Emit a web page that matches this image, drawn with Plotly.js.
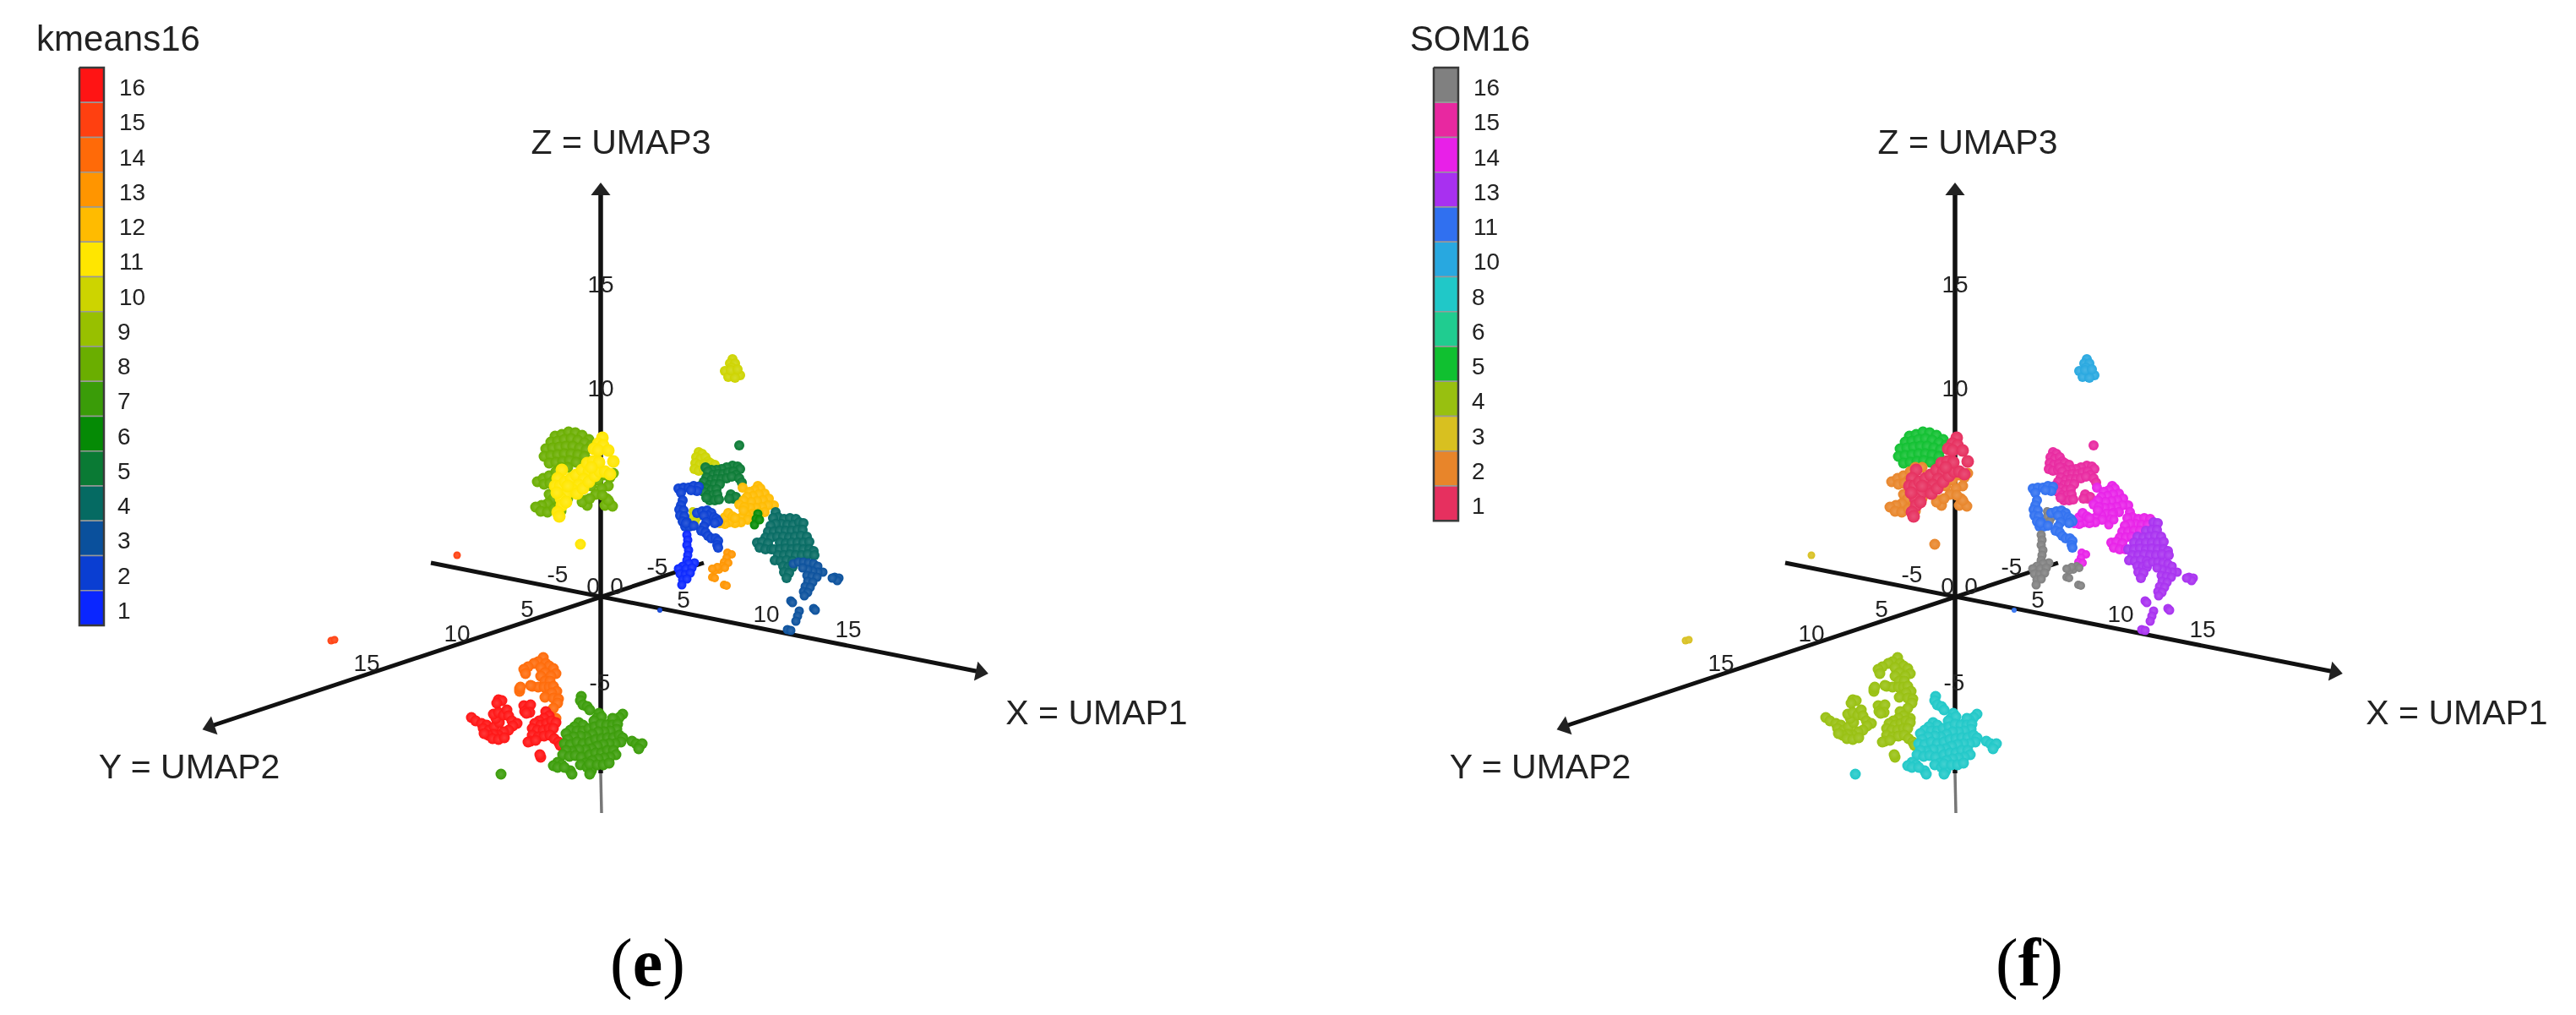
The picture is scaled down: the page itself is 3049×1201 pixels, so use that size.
<!DOCTYPE html>
<html><head><meta charset="utf-8">
<script src="https://cdn.plot.ly/plotly-3.0.1.min.js"></script>
<style>html,body{margin:0;padding:0;background:#fff}#p{width:3049px;height:1201px}
#p .cartesianlayer{filter:blur(0.6px)}</style>
</head><body><div id="p"></div>
<script>
// ---- legend categories and colours ----
const kmeansLabels=[1,2,3,4,5,6,7,8,9,10,11,12,13,14,15,16];
const kmeansColors=['#0a26ff','#0a3ed2','#0a509c','#056a62','#0a7a34','#058a05','#3a9c08','#6aae00','#98c000','#cdd400','#ffe600','#ffbb00','#ff9500','#ff6a08','#ff4010','#ff1414'];
const somLabels=[1,2,3,4,5,6,8,10,11,13,14,15,16];
const somColors=['#e6305f','#e8852a','#d8c020','#98c010','#10c030','#20cc90','#20c8c8','#28a8e0','#3070f0','#a830f0','#e820e8','#e828a0','#808080'];
// ---- projected UMAP points ----
const cloudA1=[[657,516],[665,514],[673,511],[681,512],[689,515],[697,520],[652,523],[660,522],[668,520],[676,519],[684,521],[692,524],[700,527],[646,531],[654,530],[662,529],[670,528],[678,528],[686,530],[694,532],[644,540],[652,539],[660,538],[668,537],[676,537],[684,538],[692,540],[650,548],[658,547],[666,546],[674,545],[682,547]];
const cloudA2=[[636,570],[643,566],[650,563],[656,568],[644,573],[651,572],[658,558],[664,553],[672,553],[650,585],[655,590],[648,596],[641,598],[634,600],[640,605],[648,606],[656,602],[662,597],[667,592],[660,585],[672,590],[664,605],[693,592],[695,598],[689,594],[718,590],[722,596],[716,598],[725,599],[720,592],[700,575],[708,568],[716,562],[722,565],[720,575],[712,578],[705,585],[698,590],[713,586],[726,560]];
const cloudB=[[713,518],[708,525],[703,531],[714,527],[708,533],[720,533],[726,546],[665,556],[660,566],[657,575],[663,575],[669,570],[676,566],[682,562],[689,556],[695,548],[702,546],[697,558],[691,567],[685,574],[678,580],[670,585],[664,590],[659,583],[672,575],[683,584],[690,578],[697,570],[704,563],[710,558],[716,558],[722,561],[709,547],[700,553],[665,598],[660,606],[670,594],[662,611]];
const loneB=[[687,644]];
const cloudC=[[867,425],[864,430],[870,430],[866,435],[862,440],[858,439],[868,442],[873,442],[876,444],[862,446],[870,447],[865,438],[873,437]];
const cloudD=[[827,535],[831,537],[824,541],[829,543],[835,541],[838,546],[823,548],[828,550],[834,549],[841,548],[846,550],[822,555],[827,557],[833,556],[839,554]];
const cloudD2=[[820,605],[824,606],[820,611],[825,613],[823,617]];
const cloudE=[[875,527],[867,551],[873,552],[876,555],[860,553],[854,555],[848,556],[842,556],[835,553],[838,558],[844,562],[850,561],[856,561],[862,559],[868,558],[871,562],[836,565],[842,568],[848,567],[854,567],[860,566],[866,564],[833,570],[840,574],[846,573],[852,573],[875,566],[878,571],[829,575],[836,578],[842,580],[848,579],[833,582],[838,586],[844,586],[849,585],[840,592],[846,592],[851,591],[836,589],[865,585],[868,590],[871,588],[863,590]];
const cloudE2=[[897,608],[895,614],[893,621],[899,615]];
const cloudF=[[879,577],[897,575],[900,578],[893,580],[887,582],[905,584],[898,585],[891,587],[884,588],[910,590],[903,592],[896,593],[889,594],[880,592],[875,597],[916,598],[909,598],[902,600],[895,601],[888,601],[881,600],[905,606],[898,607],[890,608],[884,610],[878,612],[885,615],[877,618],[870,619],[863,618],[858,620],[852,619],[858,612],[862,607],[867,611],[870,613],[880,604]];
const cloudG1=[[918,606],[921,612],[915,613],[928,614],[935,613],[942,614],[925,620],[918,620],[912,622],[932,621],[939,621],[909,629],[916,629],[923,628],[930,628],[906,636],[913,636],[920,635],[896,642],[902,641],[909,643],[899,648],[906,650],[913,650]];
const cloudG2=[[946,618],[951,619],[937,628],[944,627],[950,627],[927,635],[934,636],[941,635],[948,634],[955,635],[923,642],[930,643],[937,642],[944,642],[951,642],[958,641],[916,650],[923,650],[930,649],[937,650],[944,649],[951,650],[958,650],[963,652],[921,657],[928,657],[935,656],[942,657],[949,657],[956,656],[964,657],[917,663],[924,664],[931,663],[938,664],[927,670],[933,671],[938,671],[928,677],[934,678],[931,684]];
const cloudH=[[939,667],[945,665],[951,665],[957,666],[963,667],[968,670],[974,677],[968,677],[962,676],[956,674],[950,672],[955,681],[961,682],[967,683],[956,688],[962,689],[953,694],[959,695],[951,700],[956,701],[952,705],[988,683],[993,684],[991,687],[985,684],[936,711],[938,713],[963,720],[965,722],[946,723],[944,729],[942,735],[932,745],[936,746]];
const cloudI=[[803,578],[809,577],[815,577],[821,575],[827,576],[825,581],[818,580],[806,583],[808,592],[806,598],[804,603],[809,604],[805,610],[810,611],[808,617],[813,618],[811,623],[816,623],[812,619],[821,622],[825,607],[831,605],[837,604],[842,607],[838,610],[845,612],[848,614],[850,617],[833,610],[846,619],[836,618],[833,623],[830,628],[835,630],[838,634],[842,637],[847,637],[850,640],[849,645],[850,648]];
const cloudI2=[[813,633],[814,639],[813,645],[815,651],[814,657],[813,663],[822,666],[815,667],[808,670],[803,673],[812,673],[819,672],[805,679],[811,680],[817,678],[808,686],[813,685],[807,692]];
const cloudJ1=[[861,654],[866,656],[860,660],[857,665],[862,666]];
const cloudJ2=[[855,670],[851,674],[846,675],[858,672],[849,671],[843,673],[843,683],[846,684],[857,692],[860,693]];
const cloudK=[[643,778],[637,783],[632,785],[625,789],[620,792],[646,785],[650,788],[655,791],[658,797],[622,797],[640,790],[645,796],[640,800],[652,800],[645,806],[651,806],[630,812],[637,813],[644,813],[650,813],[628,811],[655,812],[659,818],[653,820],[645,825],[655,826],[661,827],[660,832],[655,838],[615,818],[615,815],[616,813],[658,850]];
const cloudL=[[590,828],[594,829],[588,832],[558,849],[563,853],[570,856],[576,858],[572,862],[579,864],[585,860],[591,855],[587,850],[584,845],[590,843],[596,846],[600,840],[602,847],[606,853],[612,856],[607,859],[602,864],[596,866],[590,870],[584,869],[578,870],[573,868],[583,874],[590,875],[597,873],[620,835],[625,838],[621,842],[628,834],[627,843],[623,844],[646,842],[650,847],[644,850],[638,853],[633,856],[640,858],[647,856],[653,853],[658,855],[630,862],[636,864],[643,864],[650,862],[655,862],[630,870],[637,872],[644,871],[651,870],[628,877],[625,878],[634,876],[656,874],[661,878],[663,882],[640,896],[639,893]];
const cloudM=[[593,916],[688,824],[687,829],[690,834],[695,836],[698,840],[709,844],[706,850],[712,848],[703,853],[737,845],[733,849],[728,852],[722,856],[725,850],[685,855],[690,858],[680,860],[675,864],[670,868],[683,865],[690,865],[697,862],[704,860],[711,857],[718,858],[725,858],[731,857],[730,863],[722,865],[715,866],[708,866],[701,869],[694,872],[687,871],[679,872],[672,875],[668,880],[675,881],[683,878],[690,880],[698,878],[705,875],[712,874],[719,873],[726,873],[733,870],[737,873],[735,878],[728,880],[721,880],[714,881],[707,883],[700,886],[693,887],[685,887],[677,889],[670,888],[666,893],[674,895],[681,894],[688,896],[698,893],[705,891],[712,891],[719,888],[726,888],[729,893],[722,896],[715,897],[708,898],[701,900],[693,903],[687,905],[695,908],[700,912],[698,904],[707,905],[714,905],[721,903],[660,902],[665,905],[655,906],[660,908],[675,912],[677,916],[668,908],[698,916],[748,877],[753,880],[757,883],[760,880],[756,886]];
const outliers=[[392,758],[396,757],[541,657]];
const strayBlue=[[781,722]];
// each cloud: points, kmeans16 class, SOM16 class, marker size
const clouds=[
 [cloudA1,8,5,13],[cloudA2,8,2,13],[cloudD,10,15,12],[cloudE,5,15,12],[cloudF,12,14,12],[cloudE2,6,14,11],
 [cloudG1,4,14,12],[cloudG2,4,13,12],[cloudH,3,13,11],[cloudD2,10,16,10],[cloudI,2,11,12],[cloudI2,1,16,11],
 [cloudJ1,13,14,10],[cloudJ2,13,16,10],[cloudC,10,10,12],[cloudK,14,4,13],[cloudL,16,4,13],[cloudM,7,8,13],
 [cloudB,11,1,15],[loneB,11,2,13],[outliers,15,3,9],[strayBlue,2,11,6]
];
// ---- axes ----
const axisXx=[510,1160],axisXy=[666,795];
const axisYx=[833,250],axisYy=[666,859];
const axisZx=[711,711],axisZy=[228,915];
const axisZ2x=[711,712],axisZ2y=[915,962];
const arrowX=[1160,795],arrowY=[249,860],arrowZ=[711,226];
const tickLabels=['15','10','-5','15','10','5','-5','5','10','15','-5','0','0'];
const tickX=[711,711,710,434,541,624,660,809,907,1004,778,702,730];
const tickY=[339,462,810,787,752,723,682,712,729,747,673,696,696];
const titlesE=[['Z = UMAP3',735,172],['X = UMAP1',1298,847],['Y = UMAP2',224,911]];
const titlesF=[['Z = UMAP3',726,172],['X = UMAP1',1305,847],['Y = UMAP2',220,911]];
const subTags=['(<b>e</b>)','(<b>f</b>)'];

const FONT='"Liberation Sans",Arial,sans-serif', INK='#222222';
function lighten(h,t){const n=parseInt(h.slice(1),16);const f=s=>Math.round(((n>>s)&255)*(1-t)+255*t);
 return `rgb(${f(16)},${f(8)},${f(0)})`;}
const BAR_TOP=80,BAR_STEP=41.25,BAR_L=94,BAR_W=29;
function panel(xa,ya,title,labels,colors,titles,cloudClass){
 const tr=[];
 const n=labels.length,topDown=[...labels].reverse(),colDown=[...colors].reverse();
 tr.push({type:'bar',xaxis:xa,yaxis:ya,orientation:'v',x:topDown.map(()=>BAR_L+BAR_W/2),y:topDown.map(()=>BAR_STEP),
  base:topDown.map((_,i)=>BAR_TOP+i*BAR_STEP),width:BAR_W,marker:{color:colDown,line:{color:'#999999',width:1.5}},hoverinfo:'skip'});
 const bx=[BAR_L,BAR_L+BAR_W,BAR_L+BAR_W,BAR_L,BAR_L],by=[BAR_TOP,BAR_TOP,BAR_TOP+n*BAR_STEP,BAR_TOP+n*BAR_STEP,BAR_TOP];
 tr.push({type:'scatter',mode:'lines',xaxis:xa,yaxis:ya,x:bx,y:by,line:{color:'#3a3a3a',width:2.5},hoverinfo:'skip'});
 tr.push({type:'scatter',mode:'text',xaxis:xa,yaxis:ya,x:topDown.map(l=>l>=10?141:139),y:topDown.map((_,i)=>BAR_TOP+26+i*BAR_STEP),
  text:topDown.map(String),textposition:'middle right',textfont:{family:FONT,size:28,color:INK},hoverinfo:'skip'});
 tr.push({type:'scatter',mode:'text',xaxis:xa,yaxis:ya,x:[title[1]],y:[49],text:[title[0]],textposition:'middle center',textfont:{family:FONT,size:42,color:INK},hoverinfo:'skip'});
 const ln=(x,y,w,c)=>tr.push({type:'scatter',mode:'lines',xaxis:xa,yaxis:ya,x,y,line:{color:c,width:w},hoverinfo:'skip'});
 ln(axisXx,axisXy,5,'#111');ln(axisYx,axisYy,5,'#111');ln(axisZx,axisZy,5.5,'#111');ln(axisZ2x,axisZ2y,3.5,'#777');
 [[arrowX,101],[arrowY,251],[arrowZ,0]].forEach(([p,a])=>tr.push({type:'scatter',mode:'markers',xaxis:xa,yaxis:ya,x:[p[0]],y:[p[1]],
  marker:{symbol:'triangle-up',size:20,angle:a,color:'#222'},hoverinfo:'skip'}));
 tr.push({type:'scatter',mode:'text',xaxis:xa,yaxis:ya,x:tickX,y:tickY,text:tickLabels,textposition:'middle center',textfont:{family:FONT,size:28,color:INK},hoverinfo:'skip'});
 tr.push({type:'scatter',mode:'text',xaxis:xa,yaxis:ya,x:titles.map(t=>t[1]),y:titles.map(t=>t[2]),text:titles.map(t=>t[0]),textposition:'middle center',textfont:{family:FONT,size:41,color:INK},hoverinfo:'skip'});
 clouds.forEach(c=>{const col=colors[labels.indexOf(c[cloudClass])];
  tr.push({type:'scatter',mode:'markers',xaxis:xa,yaxis:ya,x:c[0].map(p=>p[0]),y:c[0].map(p=>p[1]),
   marker:{size:c[3],color:col,line:{width:0},gradient:{type:'radial',color:lighten(col,0.16)}},hoverinfo:'skip'});});
 return tr;
}
const D=1603,W=3049,H=1201;
const traces=[...panel('x','y',['kmeans16',140],kmeansLabels,kmeansColors,titlesE,1),
              ...panel('x2','y',['SOM16',137],somLabels,somColors,titlesF,2)];
const hide={visible:false,fixedrange:true};
const tag=(t,xr,x)=>({text:t,xref:xr,yref:'y',x,y:1139,showarrow:false,xanchor:'center',yanchor:'middle',font:{family:'"Liberation Serif",serif',size:80,color:'#000'}});
Plotly.newPlot('p',traces,{
 width:W,height:H,margin:{l:0,r:0,t:0,b:0,pad:0},paper_bgcolor:'#fff',plot_bgcolor:'#fff',showlegend:false,barmode:'overlay',
 xaxis:{...hide,domain:[0,D/W],range:[0,D]},
 xaxis2:{...hide,domain:[D/W,1],range:[0,W-D],anchor:'y'},
 yaxis:{...hide,domain:[0,1],range:[H,0]},
 annotations:[tag(subTags[0],'x',766),tag(subTags[1],'x2',799)]
},{displayModeBar:false,staticPlot:true});
</script></body></html>
